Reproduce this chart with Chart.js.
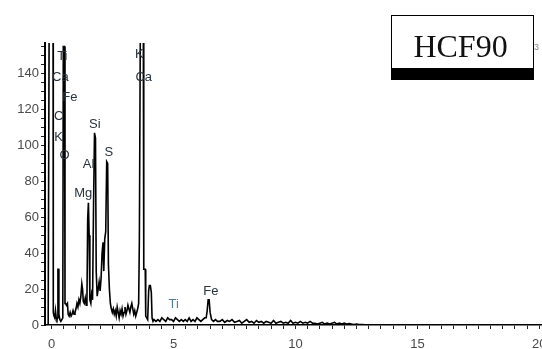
<!DOCTYPE html>
<html>
<head>
<meta charset="utf-8">
<script src="https://cdn.jsdelivr.net/npm/chart.js@4.4.1/dist/chart.umd.min.js"></script>
<style>
  html, body { margin: 0; padding: 0; background: #fff; }
  #wrap { position: relative; width: 542px; height: 349px; overflow: hidden; }
  #spec { display: block; }
  #tag {
    position: absolute; left: 391px; top: 15px; width: 143px; height: 65px;
    box-sizing: border-box; border: 1px solid #000; border-bottom: 12px solid #000;
    background: #fff;
  }
  #tag span {
    position: absolute; left: 0; right: 4px; top: 14px; text-align: center;
    font: 32px/32px "Liberation Serif", "Times New Roman", serif; color: #111;
  }
  #edge { position: absolute; left: 534px; top: 42px; font: 9px "Liberation Sans", Arial, sans-serif; color: #888; }
</style>
</head>
<body>
<div id="wrap">
  <canvas id="spec" width="580" height="349"></canvas>
  <div id="tag"><span>HCF90</span></div>
  <div id="edge">3</div>
</div>
<script>
// EDS spectrum: photon energy (keV) and counts per channel
const energy = [
  -0.14, -0.11, -0.10, 0.06, 0.07, 0.10, 0.13, 0.16, 0.19, 0.22, 0.25, 0.26, 0.29, 0.30, 0.34, 0.38, 0.42, 0.46, 0.48, 0.53, 0.55,
  0.57, 0.61, 0.65, 0.68, 0.72, 0.76, 0.80, 0.84, 0.88, 0.92, 0.96, 1.00, 1.04, 1.08, 1.12, 1.16, 1.20, 1.24, 1.27, 1.30,
  1.34, 1.38, 1.42, 1.45, 1.48, 1.51, 1.54, 1.57, 1.61, 1.64, 1.68, 1.72, 1.76, 1.80, 1.83, 1.87, 1.91, 1.95, 1.99, 2.03,
  2.07, 2.11, 2.14, 2.18, 2.22, 2.26, 2.30, 2.33, 2.37, 2.41, 2.45,
  2.49, 2.53, 2.57, 2.61, 2.65, 2.69, 2.73, 2.77, 2.81, 2.85, 2.89, 2.93, 2.97, 3.01, 3.05, 3.09, 3.13, 3.17, 3.21, 3.25,
  3.29, 3.33, 3.37, 3.41, 3.45, 3.49, 3.53, 3.57,
  3.60, 3.62, 3.64, 3.76, 3.78, 3.84, 3.86, 3.90, 3.94, 3.98, 4.01, 4.05, 4.09, 4.12, 4.16,
  4.20, 4.28, 4.36, 4.44, 4.52, 4.60, 4.68, 4.76, 4.84, 4.92, 5.00, 5.08, 5.16, 5.24, 5.32, 5.40, 5.48, 5.56, 5.64, 5.72,
  5.80, 5.88, 5.96, 6.04, 6.12, 6.20, 6.28,
  6.34, 6.38, 6.42, 6.46, 6.50, 6.56, 6.64, 6.72, 6.80,
  6.9, 7.0, 7.1, 7.2, 7.3, 7.4, 7.5, 7.6, 7.7, 7.8, 7.9, 8.0, 8.1, 8.2, 8.3, 8.4, 8.5, 8.6,
  8.7, 8.8, 8.9, 9.0, 9.1, 9.2, 9.3, 9.4, 9.5, 9.6, 9.7, 9.8, 9.9, 10.0, 10.1, 10.2, 10.3, 10.4, 10.5, 10.6, 10.7,
  10.8, 10.9, 11.0, 11.1, 11.2, 11.3, 11.4, 11.5, 11.6, 11.7, 11.8, 11.9, 12.0, 12.1, 12.2, 12.3, 12.4, 12.5, 12.6,
  12.8, 13.5, 14.5, 16.0, 18.0, 20.2
];
const counts = [
  0, 0, 170, 170, 7, 5, 4, 8, 4, 3, 4, 31, 31, 6, 3, 2, 3, 4, 155, 155, 12,
  12, 11, 12, 6, 5, 7, 5, 6, 8, 6, 7, 9, 12, 10, 14, 12, 16, 23, 20, 13,
  12, 15, 11, 14, 59, 68, 50, 14, 12, 17, 14, 66, 107, 104, 30, 16, 20, 24, 19, 26,
  40, 46, 30, 48, 52, 91, 90, 34, 20, 12, 9,
  7, 9, 6, 8, 5, 10, 7, 4, 8, 6, 9, 5, 7, 10, 6, 8, 11, 9, 7, 10,
  12, 9, 6, 8, 5, 7, 9, 12,
  48, 48, 170, 170, 31, 31, 5, 4, 3, 19, 22, 22, 18, 4, 2,
  3, 2, 3, 2, 4, 3, 2, 4, 3, 3, 2, 4, 3, 2, 3, 2, 3, 2, 4, 2,
  3, 2, 4, 3, 2, 3, 4,
  4, 8, 14, 14, 7, 3, 2, 3, 2,
  2, 3, 1.5, 2.5, 2, 3, 1.5, 2, 2.5, 1, 2, 3, 1.5, 2, 1, 2.5, 1.5, 2,
  1, 2, 1.5, 1, 2.5, 1, 1.5, 2, 1, 1.5, 1, 2.5, 1, 1.5, 1, 2, 1, 1.5, 1, 2, 1,
  1, 0.5, 1, 1.5, 0.5, 1, 0.5, 1, 1.5, 0.5, 1, 0.5, 1, 0.5, 0.8, 0.5, 0.3, 0.5, 0.3,
  0.2, 0.1, 0, 0, 0, 0
];

// Axis tick labels
const xTickLabels = [0, 5, 10, 15, 20];
const yTickLabels = [0, 20, 40, 60, 80, 100, 120, 140];

// Element line labels: name, energy (keV), count level
const elementNames = ['Ti', 'Ca', 'Fe', 'C', 'K', 'O', 'Si', 'Al', 'S', 'Mg', 'K', 'Ca', 'Ti', 'Fe'];
const elementEnergy = [0.44, 0.36, 0.75, 0.29, 0.29, 0.53, 1.77, 1.52, 2.35, 1.30, 3.60, 3.78, 5.01, 6.53];
const elementLevel = [149.8, 138, 126.7, 116, 104.6, 94.4, 111.5, 89.4, 96.1, 73.2, 150.6, 138, 11.7, 18.5];

const points = energy.map((e, i) => ({ x: e, y: counts[i] }));

const elementTags = {
  id: 'elementTags',
  afterDatasetsDraw(chart) {
    const { ctx, scales: { x, y } } = chart;
    ctx.save();
    ctx.font = '13px "Liberation Sans", Arial, sans-serif';
    ctx.textAlign = 'center';
    ctx.textBaseline = 'middle';
    elementNames.forEach((name, i) => {
      ctx.fillStyle = (i === 12) ? '#4f7f9c' : '#28343e';
      ctx.fillText(name, x.getPixelForValue(elementEnergy[i]), y.getPixelForValue(elementLevel[i]));
    });
    ctx.restore();
  }
};

const tickFont = { family: '"Liberation Sans", Arial, sans-serif', size: 13 };

new Chart(document.getElementById('spec'), {
  type: 'line',
  data: {
    datasets: [{
      data: points,
      borderColor: '#000',
      borderWidth: 1.6,
      pointRadius: 0,
      tension: 0,
      fill: false
    }]
  },
  options: {
    responsive: false,
    animation: false,
    devicePixelRatio: 1,
    layout: { padding: { top: 43, right: 37, bottom: 0, left: 0 } },
    plugins: { legend: { display: false }, tooltip: { enabled: false } },
    scales: {
      x: {
        type: 'linear',
        min: -0.27,
        max: 20.15,
        afterFit(scale) { scale.height = 24; },
        border: { color: '#000', width: 1.6 },
        grid: { drawOnChartArea: false, drawTicks: true, tickLength: 4, color: '#222' },
        ticks: {
          stepSize: 0.5,
          includeBounds: false,
          autoSkip: false,
          maxRotation: 0,
          padding: 8,
          color: '#4a4a4a',
          font: tickFont,
          callback(v) {
            const r = Math.round(v * 2) / 2;
            return xTickLabels.includes(r) ? String(r) : '';
          }
        }
      },
      y: {
        min: 0,
        max: 157,
        afterFit(scale) { scale.width = 45; },
        border: { color: '#000', width: 2 },
        grid: { drawOnChartArea: false, drawTicks: true, tickLength: 4, color: '#222' },
        ticks: {
          stepSize: 5,
          includeBounds: false,
          autoSkip: false,
          padding: 2,
          color: '#4a4a4a',
          font: tickFont,
          callback(v) {
            const r = Math.round(v);
            return yTickLabels.includes(r) ? String(r) : '';
          }
        }
      }
    }
  },
  plugins: [elementTags]
});
</script>
</body>
</html>
